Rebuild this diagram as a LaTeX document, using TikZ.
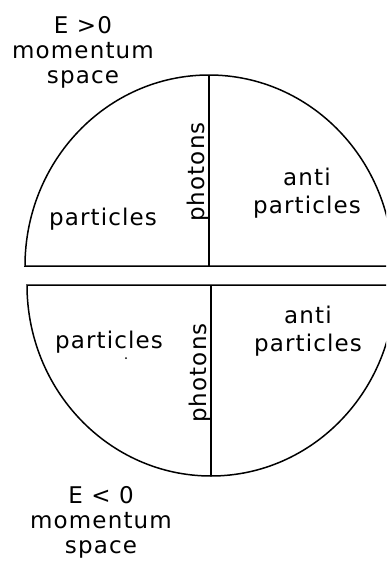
\documentclass[tikz,border=0pt]{standalone}
\usepackage{fontspec}
\usepackage{tikz}
\newfontfamily\genevafont[LetterSpace=5]{DejaVu Sans}

\begin{document}
\begin{tikzpicture}[x=1pt, y=-1pt, line width=1.5pt,
  txt/.style={font=\genevafont\fontsize{23}{25}\selectfont, inner sep=0pt, align=center},
  twoline/.style={txt, font=\genevafont\fontsize{23}{28}\selectfont}]
  \useasboundingbox (0,0) rectangle (386,562);
  \clip (0,0) rectangle (386,562);
  % E > 0 half
  \coordinate (uptop) at (209,75);
  \coordinate (upbase) at (209,266);
  \draw (25,266) arc[start angle=180, end angle=360, x radius=184, y radius=191] -- cycle;
  \draw (uptop) -- (upbase);
  \node[txt, anchor=north] (eplus) at (83,15.2) {E >0\\momentum\\space};
  \node[txt, anchor=base] (partup) at (103,225) {particles};
  \node[txt, rotate=90, anchor=base] (photup) at (204,172) {photons};
  \node[twoline, anchor=north] (antiup) at (307,167.5) {anti\\particles};
  % E < 0 half
  \coordinate (lowtop) at (211,285);
  \coordinate (lowbase) at (211,476);
  \draw (27,285) arc[start angle=180, end angle=0, x radius=184, y radius=191] -- cycle;
  \draw (lowtop) -- (lowbase);
  \node[txt, anchor=base] (partlow) at (109,348) {particles};
  \fill (126,358) circle (1pt);
  \node[txt, rotate=90, anchor=base] (photlow) at (206,373) {photons};
  \node[twoline, anchor=north] (antilow) at (308,305.5) {anti\\particles};
  \node[txt, anchor=north] (eminus) at (101,485.2) {E < 0\\momentum\\space};
\end{tikzpicture}
\end{document}
